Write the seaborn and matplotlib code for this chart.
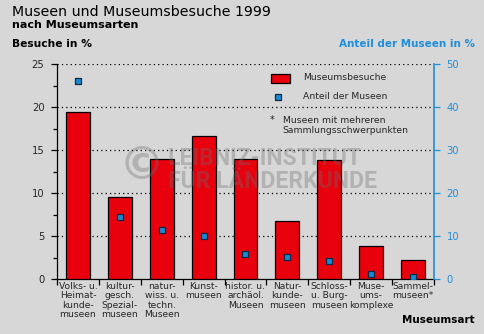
import numpy as np
import pandas as pd
import matplotlib
matplotlib.use("Agg")
import matplotlib.pyplot as plt
import seaborn as sns
from matplotlib.patches import Rectangle
from matplotlib.lines import Line2D

categories = ["Volks- u.\nHeimat-\nkunde-\nmuseen",
              "kultur-\ngesch.\nSpezial-\nmuseen",
              "natur-\nwiss. u.\ntechn.\nMuseen",
              "Kunst-\nmuseen",
              "histor. u.\narchäol.\nMuseen",
              "Natur-\nkunde-\nmuseen",
              "Schloss-\nu. Burg-\nmuseen",
              "Muse-\nums-\nkomplexe",
              "Sammel-\nmuseen*"]
besuche = [19.4, 9.5, 14.0, 16.6, 14.0, 6.8, 13.8, 3.9, 2.2]
anteil = [46.1, 14.5, 11.5, 10.1, 5.9, 5.1, 4.3, 1.3, 0.6]
left_ticks = [0, 5, 10, 15, 20, 25]
right_ticks = [0, 10, 20, 30, 40, 50]

BG = "#d7d7d7"
RED = "#e8000d"
BLUE = "#1a8ad4"
AXBLUE = "#1f8fdc"

sns.set_theme(style="white")
plt.rcParams['font.family'] = ['DejaVu Sans']

W, H = 485, 334
fig = plt.figure(figsize=(W / 100, H / 100), dpi=100, facecolor=BG)
ax = fig.add_axes([57 / W, 1 - 279.3 / H, (434 - 57) / W, (279.3 - 64) / H])
ax.set_facecolor(BG)

df = pd.DataFrame({"cat": categories, "besuche": besuche, "anteil": anteil})
sns.barplot(data=df, x="cat", y="besuche", ax=ax, color=RED, saturation=1,
            width=0.57, edgecolor="black", linewidth=0.9, zorder=3)
ax.set_ylim(0, 25)
ax.set_xlim(-0.5, len(categories) - 0.5)
ax.set_yticks(left_ticks)
ax.set_yticklabels([str(t) for t in left_ticks])
ax.set_yticks(np.arange(0, 25.1, 2.5), minor=True)
for t in left_ticks[1:]:
    ax.axhline(t, color="black", linestyle=(0, (1, 2.5)), linewidth=0.9, zorder=1)
ax.set_xlabel("")
ax.set_ylabel("")
ax.set_xticks(range(len(categories)))
ax.set_xticklabels(categories, fontsize=6.6, linespacing=1.05, va="top")
ax.set_xticks(np.arange(-0.5, len(categories)), minor=True)
ax.tick_params(axis="x", which="major", length=0, pad=2)
ax.tick_params(axis="x", which="minor", length=4, width=0.9, color="black", direction="out", bottom=True)
ax.tick_params(axis="y", which="major", length=4, width=0.9, color="black", labelsize=7.2, pad=5, left=True)
ax.tick_params(axis="y", which="minor", length=3, width=0.9, color="black", left=True)
for s in ["top", "right"]:
    ax.spines[s].set_visible(False)
for s in ["left", "bottom"]:
    ax.spines[s].set_color("black")
    ax.spines[s].set_linewidth(0.9)

ax2 = ax.twinx()
sns.stripplot(data=df, x="cat", y="anteil", ax=ax2, jitter=False, marker="s", size=5,
              color=BLUE, edgecolor="#0d2a44", linewidth=0.9, zorder=5)
ax2.set_ylim(0, 50)
ax2.set_xlim(-0.5, len(categories) - 0.5)
ax2.set_yticks(right_ticks)
ax2.set_yticklabels([str(t) for t in right_ticks])
ax2.set_ylabel("")
ax2.set_xlabel("")
ax2.tick_params(axis="y", length=4, width=0.9, color=AXBLUE, labelcolor=AXBLUE, labelsize=7.2, pad=5, right=True)
for s in ["top", "left", "bottom"]:
    ax2.spines[s].set_visible(False)
ax2.spines["right"].set_color(AXBLUE)
ax2.spines["right"].set_linewidth(1.2)

def px(x, y):
    return x / W, 1 - y / H

fig.text(*px(12, 15.5), "Museen und Museumsbesuche 1999", fontsize=10.2, va="baseline", ha="left", color="black")
fig.text(*px(12, 28.3), "nach Museumsarten", fontsize=8.0, fontweight="bold", va="baseline", ha="left", color="black")
fig.text(*px(12, 46.7), "Besuche in %", fontsize=7.7, fontweight="bold", va="baseline", ha="left", color="black")
fig.text(*px(475, 46.7), "Anteil der Museen in %", fontsize=7.5, fontweight="bold", va="baseline", ha="right", color=AXBLUE)
fig.text(*px(475, 323), "Museumsart", fontsize=7.5, fontweight="bold", va="baseline", ha="right", color="black")

# legend
fig.patches.append(Rectangle(px(271, 83.3), 19 / W, 9 / H, transform=fig.transFigure,
                             facecolor=RED, edgecolor="black", linewidth=0.9))
fig.lines.append(Line2D([278.3 / W], [1 - 96.7 / H], transform=fig.transFigure, marker="s",
                        markersize=5, markerfacecolor=BLUE, markeredgecolor="#0d2a44",
                        markeredgewidth=0.9, linestyle="none"))
fig.text(*px(302.7, 80), "Museumsbesuche", fontsize=6.7, va="baseline", ha="left")
fig.text(*px(302.7, 99), "Anteil der Museen", fontsize=6.7, va="baseline", ha="left")
fig.text(*px(270, 123.3), "*", fontsize=7, va="baseline", ha="left")
fig.text(*px(282.7, 123.3), "Museen mit mehreren", fontsize=6.7, va="baseline", ha="left")
fig.text(*px(282.7, 132.7), "Sammlungsschwerpunkten", fontsize=6.7, va="baseline", ha="left")

# watermark
wm = dict(color="#6e6e6e", alpha=0.35, zorder=10)
fig.text(*px(141.7, 166.7), "©", fontsize=33, fontweight="bold", ha="center", va="center", **wm)
fig.text(*px(168, 165), "LEIBNIZ-INSTITUT", fontsize=16.6, fontweight="bold",
         family=["Roboto", "DejaVu Sans"], ha="left", va="baseline", **wm)
fig.text(*px(168, 188.3), "FÜR LÄNDERKUNDE", fontsize=16.6, fontweight="bold",
         family=["Roboto", "DejaVu Sans"], ha="left", va="baseline", **wm)

fig.savefig("out.png", dpi=100, facecolor=BG)
